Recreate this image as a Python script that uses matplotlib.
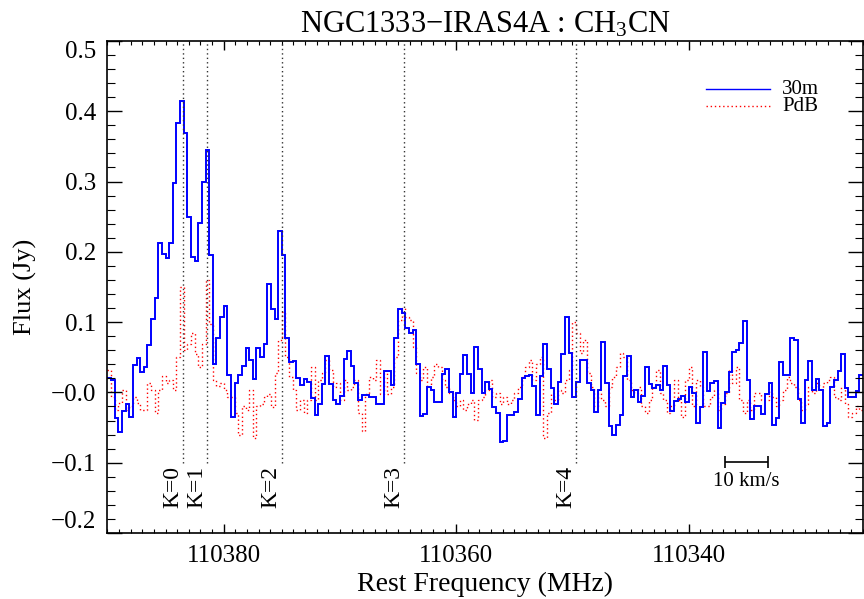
import numpy as np
import matplotlib
matplotlib.use("Agg")
import matplotlib.pyplot as plt

plt.rcParams['font.family'] = ['Liberation Serif', 'DejaVu Serif']
plt.rcParams['mathtext.fontset'] = 'custom'
plt.rcParams['mathtext.rm'] = 'Liberation Serif'
plt.rcParams['mathtext.it'] = 'Liberation Serif:italic'

# ---- data ----
freq_start = 110390.0      # MHz, first channel edge
chan_width = 0.3125        # MHz

flux_30m = [
    0.021, 0.017, -0.036, -0.056, -0.026, -0.016, -0.035, 0.039, 0.049, 0.029,
    0.036, 0.068, 0.105, 0.135, 0.213, 0.197, 0.191, 0.213, 0.298, 0.383,
    0.415, 0.369, 0.249, 0.193, 0.187, 0.241, 0.299, 0.345, 0.195, 0.041,
    0.077, 0.107, 0.123, 0.025, -0.035, 0.014, 0.025, 0.037, 0.063, 0.046,
    0.019, 0.063,
    0.051, 0.069, 0.154, 0.119, 0.104, 0.229, 0.196, 0.078, 0.043, 0.044,
    0.020, 0.010, 0.019, 0.015, -0.008, -0.032, -0.017, 0.012, 0.052, 0.012,
    -0.011, -0.017, -0.005, 0.048, 0.059, 0.038,
    0.014, -0.011, -0.004, -0.004, -0.006, -0.006, -0.017, -0.017, 0.030, 0.030,
    0.010, 0.078, 0.118,
    0.113, 0.091, 0.085, 0.089, 0.040, -0.033, -0.031, 0.007, 0.003, -0.014,
    -0.014, 0.026, 0.034, 0.001, -0.035, -0.001, 0.026, 0.053, 0.026, -0.001,
    0.064, 0.033, -0.001, 0.015, 0.005, -0.021, -0.030, -0.070, -0.069, -0.032,
    -0.032, -0.028, -0.010, 0.021, 0.024, 0.025, 0.009, -0.032, 0.024, 0.069,
    0.034, 0.006,
    -0.017, 0.015, 0.055, 0.107, 0.056, -0.006, 0.015, 0.046, 0.046, 0.013,
    0.004, -0.028, 0.003, 0.072, 0.013, -0.048, -0.061, -0.047, -0.032, 0.023,
    0.052, -0.006, 0.004, -0.013, -0.005, 0.036, 0.012, 0.006, 0.010, 0.003,
    0.038, 0.010, -0.026, -0.012, -0.010, -0.005, -0.014, 0.007, -0.001, -0.044,
    -0.021, 0.057, 0.002, 0.013,
    0.016, -0.051, -0.015, 0.001, 0.029, 0.058, 0.061, 0.071, 0.102, 0.018,
    -0.038, -0.020, -0.020, -0.031, -0.002, 0.014, -0.047, -0.036, 0.043, 0.025,
    0.025, 0.077, 0.075, -0.009, -0.043, 0.018, 0.045, 0.004, 0.019, 0.003,
    -0.048, -0.044, 0.007, 0.018, 0.031, 0.054, 0.006, -0.007, -0.007, 0.002,
    0.025,
]

flux_pdb = [
    0.032, -0.006, -0.025, -0.015, 0.004, -0.025, -0.020, -0.006, -0.015, -0.025,
    -0.025, 0.013, 0.004, -0.030, 0.004, 0.023, 0.013, 0.018, 0.004, 0.050,
    0.150, 0.060, 0.069, 0.085, 0.055, 0.036, 0.069, 0.160, 0.098, 0.018,
    0.009, 0.013, 0.004, -0.006, -0.006, -0.030, -0.060, -0.020, -0.025, 0.004,
    -0.065, -0.020,
    -0.016, -0.007, -0.002, -0.021, 0.027, 0.074, 0.115, 0.051, 0.022, 0.003,
    -0.025, -0.011, -0.030, -0.011, 0.036, -0.011, 0.018, 0.027, 0.046, 0.032,
    0.008, 0.013, -0.011, 0.018, 0.003, 0.008, 0.018, -0.030, -0.055, -0.002,
    0.022, 0.018, 0.046, -0.002, 0.027, -0.002, 0.008, 0.051, 0.103, 0.120,
    0.108,
    0.103, 0.065, 0.027, 0.018, 0.036, 0.008, 0.022, 0.041, 0.036, 0.018,
    0.008, -0.001, -0.011, -0.020, -0.011, -0.025, -0.016, -0.011, -0.039, -0.011,
    -0.006, 0.003, 0.018, -0.006, -0.001, -0.016, -0.006, -0.016, -0.011, -0.001,
    0.008, 0.022, 0.036, 0.046, 0.018, 0.041, 0.050, -0.065, -0.030, -0.001,
    -0.011,
    0.003, -0.001, 0.018, 0.032, 0.100, 0.084, 0.056, 0.075, 0.027, 0.008,
    -0.020, -0.001, -0.011, -0.020, 0.008, 0.022, 0.036, 0.056, 0.050, 0.018,
    0.003, -0.001, 0.008, -0.020, -0.030, -0.011, 0.008, 0.032, -0.001, -0.011,
    -0.030, -0.020, 0.018, -0.011, -0.035, 0.018, 0.036, -0.020, 0.018, 0.008,
    -0.020,
    -0.020, -0.006, 0.003, -0.025, -0.016, -0.001, 0.032, 0.013, 0.036, -0.011,
    -0.030, -0.011, -0.025, -0.001, -0.001, -0.011, -0.011, 0.003, -0.006, -0.020,
    -0.011, 0.003, 0.022, 0.013, 0.008, -0.011, -0.025, -0.016, 0.008, -0.001,
    0.013, 0.003, 0.013, 0.017, 0.022, -0.006, -0.011, 0.008, -0.016, -0.035,
    -0.030, -0.020, -0.025,
]

k_freqs = [110383.5, 110381.4, 110375.0, 110364.5, 110349.7]
k_labels = ['K=0', 'K=1', 'K=2', 'K=3', 'K=4']

x_ticks = [110380, 110360, 110340]
x_ticklabels = ['110380', '110360', '110340']
y_ticks = [0.5, 0.4, 0.3, 0.2, 0.1, 0.0, -0.1, -0.2]
y_ticklabels = ['0.5', '0.4', '0.3', '0.2', '0.1', '\u22120.0', '\u22120.1', '\u22120.2']

scale_velocity = 10.0   # km/s
scale_center = 110335.0
c_kms = 299792.458

# ---- figure ----
fig = plt.figure(figsize=(8.64, 5.99), dpi=100)
ax = fig.add_axes([0.1244, 0.1102, 0.8744, 0.8214])

n = len(flux_30m)
edges_30m = freq_start - chan_width * np.arange(n + 1)
m = len(flux_pdb)
edges_pdb = freq_start - chan_width * np.arange(m + 1)

ax.stairs(flux_pdb, edges_pdb, baseline=None, color='red', lw=1.0,
          linestyle=(0, (1, 2)))
ax.stairs(flux_30m, edges_30m, baseline=None, color='blue', lw=1.4)

ax.vlines(k_freqs, -0.10, 0.5, colors='#333333', linestyles=(0, (1, 2.2)), lw=1.0)
for kf, kl in zip(k_freqs, k_labels):
    ax.text(kf, -0.104, kl, rotation=90, ha='right', va='top', fontsize=17)

# velocity scale bar
half = 0.5 * scale_velocity / c_kms * scale_center
ax.errorbar([scale_center], [-0.099], xerr=[[half], [half]], color='black',
            lw=1.2, capsize=4, capthick=1.2, fmt='none')
ax.text(scale_center, -0.113, '10 km/s', ha='center', va='top', fontsize=15)

# legend (manual)
ax.plot([0.792, 0.877], [0.902, 0.902], transform=ax.transAxes, color='blue', lw=1.0)
ax.plot([0.792, 0.877], [0.868, 0.868], transform=ax.transAxes, color='red', lw=1.0,
        linestyle=(0, (1, 2)))
ax.text(0.893, 0.902, '30m', transform=ax.transAxes, va='center', ha='left', fontsize=15)
ax.text(0.893, 0.866, 'PdB', transform=ax.transAxes, va='center', ha='left', fontsize=15)

ax.set_xlim(110390, 110325)
ax.set_ylim(-0.2, 0.5)
ax.set_xticks(x_ticks)
ax.set_xticklabels(x_ticklabels)
ax.set_xticks(np.arange(110325, 110391, 1.0), minor=True)
ax.set_yticks(y_ticks)
ax.set_yticklabels(y_ticklabels)
ax.set_yticks(np.arange(-0.2, 0.501, 0.02), minor=True)

ax.tick_params(which='both', direction='in', top=True, right=True, labelsize=18)
ax.tick_params(axis='x', which='major', length=6.5, width=1.0, pad=9)
ax.tick_params(axis='x', which='minor', length=3.2, width=0.8)
ax.tick_params(axis='y', which='major', length=11, width=1.0, pad=8)
ax.tick_params(axis='y', which='minor', length=6, width=0.8)
for s in ax.spines.values():
    s.set_linewidth(1.2)

ylabels = ax.get_yticklabels()
ylabels[0].set_va('top')
ylabels[-1].set_va('bottom')

ax.set_xlabel('Rest Frequency (MHz)', fontsize=20, labelpad=3)
ax.set_ylabel('Flux (Jy)', fontsize=19, labelpad=10)
ax.set_title(r'NGC1333$-$IRAS4A : CH$_\mathrm{3}$CN', fontsize=22, pad=6)

fig.savefig('out.png', dpi=100)
